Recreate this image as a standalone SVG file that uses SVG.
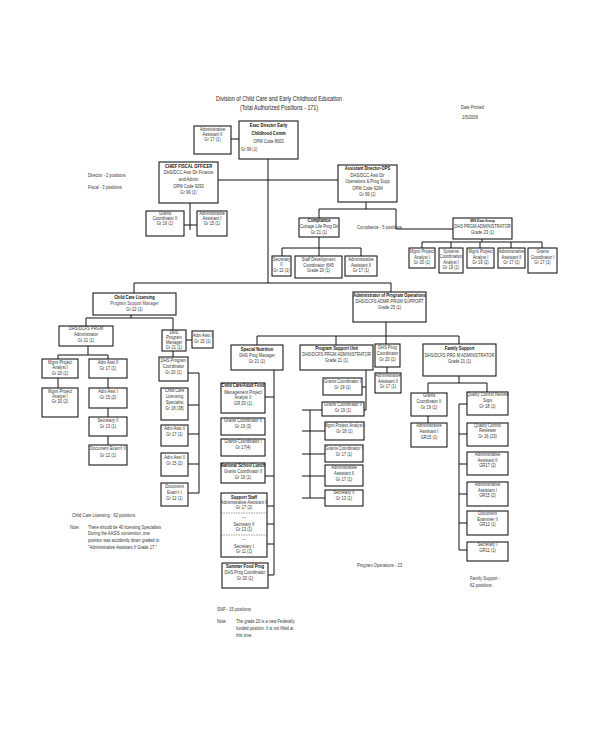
<svg xmlns="http://www.w3.org/2000/svg" width="600" height="730" viewBox="0 0 600 730">
<style>
.bg{fill:#fff}
.bx{fill:#fff;stroke:#1a1a1a;stroke-width:1.1}
.t{font-family:"Liberation Sans",Arial,sans-serif;font-size:5px;fill:#333;text-anchor:middle;transform-box:fill-box;transform-origin:center;transform:scaleX(0.82)}
.bd{font-weight:bold;fill:#111}
.s{text-anchor:start;transform-origin:left center}
.ti{font-size:6.5px;fill:#222}
.c{fill:none;stroke:#111;stroke-width:1}
.d{fill:none;stroke:#333;stroke-width:0.5;stroke-dasharray:1.5,1}
</style>
<rect class="bg" x="0" y="0" width="600" height="730"/>
<g id="labels">
<text class="t ti" x="279" y="101">Division of Child Care and Early Childhood Education</text>
<text class="t ti" x="279" y="110">(Total Authorized Positions - 171)</text>
<text class="t s" x="461" y="109">Date Printed</text>
<text class="t s" x="462" y="119">1/5/2006</text>
<text class="t s" x="88" y="177">Director - 2 positions</text>
<text class="t s" x="88" y="189">Fiscal - 3 positions</text>
<text class="t s" x="357" y="229">Compliance - 5 positions</text>
<text class="t s" x="72" y="517">Child Care Licensing  - 62 positions</text>
<text class="t s" x="70" y="529">Note:</text>
<text class="t s" x="88" y="529">There should be 40 licensing Specialists</text>
<text class="t s" x="88" y="535">During the AASIS conversion, one</text>
<text class="t s" x="88" y="542">position was accidently down graded to</text>
<text class="t s" x="88" y="549">"Administrative Assistant II Grade 17."</text>
<text class="t s" x="357" y="567">Program Operations - 23</text>
<text class="t s" x="470" y="580">Family Support -</text>
<text class="t s" x="470" y="587">62 positions</text>
<text class="t s" x="217" y="611">SNP - 15 positions</text>
<text class="t s" x="217" y="623">Note:</text>
<text class="t s" x="236" y="623">The grade 20 is a new Federally</text>
<text class="t s" x="236" y="630">funded position.  It is not filled at</text>
<text class="t s" x="236" y="637">this time.</text>
</g>
<g id="connectors">
<path class="c" d="M231,139H239 M268,159V283 M134,283H391 M134,283V293 M391,283V292 M218,180H338"/>
<path class="c" d="M190,203V230 M184,225H197"/>
<path class="c" d="M366,202V209 M319,209H396 M319,209V218 M396,209V229H453"/>
<path class="c" d="M319,237V256 M282,248H361 M282,248V256 M361,248V256"/>
<path class="c" d="M482,239V242 M422,242H542 M422,242V248 M451,242V248 M480,242V248 M511,242V248 M542,242V248"/>
<path class="c" d="M131,315V318 M86,318H173 M86,318V326 M173,318V330 M186,340H192"/>
<path class="c" d="M88,346V355 M58,355H108 M58,355V388 M108,355V445"/>
<path class="c" d="M173,351V357 M188,373H199V493 M188,405H199 M188,434H199 M188,464H199 M188,493H199"/>
<path class="c" d="M386,322V344 M257,336H459 M257,336V345 M336,336V345 M459,336V344 M387,367V373"/>
<path class="c" d="M366,370V410 M362,387H366 M364,410H366 M310,410V498 M302,410H322 M302,431H325 M302,454H325 M302,476H325 M302,498H325"/>
<path class="c" d="M274,370V575 M265,397H274 M265,476H274 M267,506H274 M267,524H274 M267,544H274 M268,575H274"/>
<path class="c" d="M459,376V383 M428,383H487 M428,383V423 M487,383V392 M459,404V550 M459,404H467 M459,434H467 M459,464H467 M459,494H467 M459,523H467 M459,550H467"/>
</g>
<g id="n_admin_asst_exec"><rect class="bx" x="194" y="126" width="37" height="28"/>
<text class="t" x="212.5" y="131">Administrative</text><text class="t" x="212.5" y="136">Assistant II</text><text class="t" x="212.5" y="141">Gr 17 (1)</text></g>
<g id="n_exec_director"><rect class="bx" x="239" y="121" width="59" height="38"/>
<text class="t bd" x="268.5" y="127">Exec Director Early</text><text class="t bd" x="268.5" y="135">Childhood Comm</text><text class="t" x="268.5" y="143">OPM Code 8002</text><text class="t s" x="241" y="151">Gr 99   (1)</text></g>
<g id="n_cfo"><rect class="bx" x="159" y="162" width="59" height="41"/>
<text class="t bd" x="188.5" y="168">CHIEF FISCAL OFFICER</text><text class="t" x="188.5" y="174">DHS/DCC Asst Dir Finance</text><text class="t" x="188.5" y="181">and Admin</text><text class="t" x="188.5" y="188">OPM Code 9293</text><text class="t" x="188.5" y="194">Gr 99 (1)</text></g>
<g id="n_fiscal_grants"><rect class="bx" x="146" y="211" width="38" height="25"/>
<text class="t" x="165" y="215">Grants</text><text class="t" x="165" y="220">Coordinator II</text><text class="t" x="165" y="225">Gr 19 (1)</text></g>
<g id="n_fiscal_admin"><rect class="bx" x="197" y="211" width="30" height="25"/>
<text class="t" x="212" y="215">Administrative</text><text class="t" x="212" y="220">Assistant I</text><text class="t" x="212" y="225">Gr 15 (1)</text></g>
<g id="n_asst_director"><rect class="bx" x="338" y="165" width="59" height="37"/>
<text class="t bd" x="367.5" y="170">Assistant Director-OPS</text><text class="t" x="367.5" y="177">DHS/DCC Asst Dir</text><text class="t" x="367.5" y="183">Operations &amp; Prog Supp</text><text class="t" x="367.5" y="190">OPM Code 9294</text><text class="t" x="367.5" y="196">Gr 99 (1)</text></g>
<g id="n_compliance"><rect class="bx" x="299" y="218" width="40" height="19"/>
<text class="t bd" x="319" y="222">Compliance</text><text class="t" x="319" y="228">Cottage Life Prog Dir</text><text class="t" x="319" y="234">Gr 21  (1)</text></g>
<g id="n_mis"><rect class="bx" x="453" y="218" width="59" height="21"/>
<text class="t bd" x="482.5" y="222" style="font-size:4px">MIS Data Group</text><text class="t" x="482.5" y="228">DHS PRGM ADMINISTRATOR</text><text class="t" x="482.5" y="234">Grade 23  (1)</text></g>
<g id="n_comp_sec"><rect class="bx" x="272" y="256" width="19" height="20"/>
<text class="t" x="281.5" y="261">Secretary</text><text class="t" x="281.5" y="266">II</text><text class="t" x="281.5" y="272">Gr 12 (1)</text></g>
<g id="n_comp_staffdev"><rect class="bx" x="295" y="256" width="47" height="22"/>
<text class="t" x="318.5" y="261">Staff Development</text><text class="t" x="318.5" y="267">Coordinator (645</text><text class="t" x="318.5" y="272">Grade 20 (1)</text></g>
<g id="n_comp_admin"><rect class="bx" x="345" y="256" width="32" height="20"/>
<text class="t" x="361" y="261">Administrative</text><text class="t" x="361" y="267">Assistant II</text><text class="t" x="361" y="272">Gr 17 (1)</text></g>
<g id="n_mis_1"><rect class="bx" x="409" y="248" width="26" height="20"/>
<text class="t" x="422" y="253">Mgmt Project</text><text class="t" x="422" y="259">Analyst I</text><text class="t" x="422" y="264">Gr 20 (1)</text></g>
<g id="n_mis_2"><rect class="bx" x="439" y="248" width="24" height="25"/>
<text class="t" x="451" y="253">Systems</text><text class="t" x="451" y="258">Coordination</text><text class="t" x="451" y="264">Analyst I</text><text class="t" x="451" y="269">Gr 19 (1)</text></g>
<g id="n_mis_3"><rect class="bx" x="467" y="248" width="27" height="20"/>
<text class="t" x="480.5" y="253">Mgmt Project</text><text class="t" x="480.5" y="259">Analyst I</text><text class="t" x="480.5" y="264">Gr 19 (2)</text></g>
<g id="n_mis_4"><rect class="bx" x="498" y="248" width="27" height="20"/>
<text class="t" x="511.5" y="253">Administrative</text><text class="t" x="511.5" y="259">Assistant II</text><text class="t" x="511.5" y="264">Gr 17 (1)</text></g>
<g id="n_mis_5"><rect class="bx" x="528" y="248" width="29" height="25"/>
<text class="t" x="542.5" y="253">Grants</text><text class="t" x="542.5" y="259">Coordinator I</text><text class="t" x="542.5" y="264">Gr 17 (1)</text></g>
<g id="n_ccl"><rect class="bx" x="93" y="293" width="83" height="22"/>
<text class="t bd" x="134.5" y="299">Child Care Licensing</text><text class="t" x="134.5" y="305" style="fill:#5a3a6a">Program Support Manager</text><text class="t" x="134.5" y="311">Gr 22 (1)</text></g>
<g id="n_ccl_admin"><rect class="bx" x="59" y="326" width="54" height="20"/>
<text class="t" x="86" y="330">DHS/DCFS PRGM</text><text class="t" x="86" y="336">Administrator</text><text class="t" x="86" y="342">Gr 21 (1)</text></g>
<g id="n_ccl_pm"><rect class="bx" x="162" y="330" width="24" height="21"/>
<text class="t" x="174" y="334">DHS</text><text class="t" x="174" y="339">Program</text><text class="t" x="174" y="344">Manager</text><text class="t" x="174" y="349">Gr 21 (1)</text></g>
<g id="n_ccl_pm_asst"><rect class="bx" x="192" y="331" width="21" height="17"/>
<text class="t" x="202.5" y="337">Adm Asst I</text><text class="t" x="202.5" y="343">Gr 15 (1)</text></g>
<g id="n_ccl_mpa1"><rect class="bx" x="42" y="359" width="36" height="19"/>
<text class="t" x="60" y="364">Mgmt Project</text><text class="t" x="60" y="369">Analyst I</text><text class="t" x="60" y="375">Gr 20 (1)</text></g>
<g id="n_ccl_mpa2"><rect class="bx" x="42" y="388" width="36" height="29"/>
<text class="t" x="60" y="393">Mgmt Project</text><text class="t" x="60" y="398">Analyst I</text><text class="t" x="60" y="403">Gr 20 (2)</text></g>
<g id="n_ccl_aa2"><rect class="bx" x="89" y="359" width="38" height="19"/>
<text class="t" x="108" y="364">Adm Asst II</text><text class="t" x="108" y="370">Gr 17 (1)</text></g>
<g id="n_ccl_aa1"><rect class="bx" x="89" y="388" width="38" height="20"/>
<text class="t" x="108" y="393">Adm Asst I</text><text class="t" x="108" y="399">Gr 15 (2)</text></g>
<g id="n_ccl_sec"><rect class="bx" x="89" y="417" width="38" height="19"/>
<text class="t" x="108" y="422">Secretary II</text><text class="t" x="108" y="428">Gr 13 (1)</text></g>
<g id="n_ccl_doc"><rect class="bx" x="89" y="445" width="38" height="20"/>
<text class="t" x="108" y="450">Document Exam'r II</text><text class="t" x="108" y="457">Gr 12 (1)</text></g>
<g id="n_ccl_coord"><rect class="bx" x="159" y="357" width="29" height="24"/>
<text class="t" x="173.5" y="362">DHS Program</text><text class="t" x="173.5" y="368">Coordinator</text><text class="t" x="173.5" y="374">Gr 20 (1)</text></g>
<g id="n_ccl_spec"><rect class="bx" x="161" y="388" width="27" height="32"/>
<text class="t" x="174.5" y="392">Child Care</text><text class="t" x="174.5" y="398">Licensing</text><text class="t" x="174.5" y="404">Specialist</text><text class="t" x="174.5" y="410">Gr 18 (38)</text></g>
<g id="n_ccl_aa2b"><rect class="bx" x="161" y="425" width="27" height="21"/>
<text class="t" x="174.5" y="430">Adm Asst II</text><text class="t" x="174.5" y="436">Gr 17 (1)</text></g>
<g id="n_ccl_aa2c"><rect class="bx" x="161" y="453" width="27" height="23"/>
<text class="t" x="174.5" y="459">Adm Asst II</text><text class="t" x="174.5" y="465">Gr 15 (2)</text></g>
<g id="n_ccl_doc1"><rect class="bx" x="161" y="483" width="27" height="23"/>
<text class="t" x="174.5" y="488">Document</text><text class="t" x="174.5" y="494">Exam'r I</text><text class="t" x="174.5" y="500">Gr 12 (1)</text></g>
<g id="n_progops"><rect class="bx" x="353" y="292" width="73" height="30"/>
<text class="t bd" x="389.5" y="297">Administrator of Program Operations</text><text class="t" x="389.5" y="303">DHS/DCFS ADMR PRGM SUPPORT</text><text class="t" x="389.5" y="309">Grade 25 (1)</text></g>
<g id="n_snp"><rect class="bx" x="231" y="345" width="52" height="25"/>
<text class="t bd" x="257" y="351">Special Nutrition</text><text class="t" x="257" y="357">DHS Prog Manager</text><text class="t" x="257" y="363">Gr 21  (1)</text></g>
<g id="n_psu"><rect class="bx" x="300" y="345" width="73" height="25"/>
<text class="t bd" x="336.5" y="350">Program Support Unit</text><text class="t" x="336.5" y="356">DHS/DCFS PRGM ADMINISTRATOR</text><text class="t" x="336.5" y="362">Grade 21  (1)</text></g>
<g id="n_po_coord"><rect class="bx" x="375" y="344" width="25" height="23"/>
<text class="t" x="387.5" y="349">DHS Prog</text><text class="t" x="387.5" y="355">Coordinator</text><text class="t" x="387.5" y="361">Gr 20 (1)</text></g>
<g id="n_po_admin"><rect class="bx" x="375" y="373" width="26" height="20"/>
<text class="t" x="388" y="377">Administrative</text><text class="t" x="388" y="383">Assistant II</text><text class="t" x="388" y="388">Gr 17 (1)</text></g>
<g id="n_family"><rect class="bx" x="423" y="344" width="73" height="32"/>
<text class="t bd" x="459.5" y="350">Family Support</text><text class="t" x="459.5" y="357">DHS/DCFS PRG M ADMINISTRATOR</text><text class="t" x="459.5" y="363">Grade 21  (1)</text></g>
<g id="n_psu_1"><rect class="bx" x="323" y="378" width="39" height="17"/>
<text class="t" x="342.5" y="383">Grants Coordinator I</text><text class="t" x="342.5" y="389">Gr 19 (1)</text></g>
<g id="n_psu_2"><rect class="bx" x="322" y="402" width="42" height="14"/>
<text class="t" x="343" y="406">Grants Coordinator II</text><text class="t" x="343" y="412">Gr 19 (1)</text></g>
<g id="n_psu_3"><rect class="bx" x="325" y="422" width="39" height="18"/>
<text class="t" x="344.5" y="427">Mgmt Project Analyst I</text><text class="t" x="344.5" y="433">Gr 18 (1)</text></g>
<g id="n_psu_4"><rect class="bx" x="325" y="445" width="38" height="17"/>
<text class="t" x="344" y="450">Grants Coordinator I</text><text class="t" x="344" y="456">Gr 17 (1)</text></g>
<g id="n_psu_5"><rect class="bx" x="325" y="465" width="38" height="21"/>
<text class="t" x="344" y="469">Administrative</text><text class="t" x="344" y="475">Assistant II</text><text class="t" x="344" y="481">Gr 17 (1)</text></g>
<g id="n_psu_6"><rect class="bx" x="325" y="490" width="38" height="16"/>
<text class="t" x="344" y="494">Secretary II</text><text class="t" x="344" y="500">Gr 13 (1)</text></g>
<g id="n_snp_ccaf"><rect class="bx" x="221" y="383" width="44" height="30"/>
<text class="t bd" x="243" y="387">Child Care/Adult Food</text><text class="t" x="243" y="394">Management Project</text><text class="t" x="243" y="399">Analyst II</text><text class="t" x="243" y="405">GR 20  (1)</text></g>
<g id="n_snp_gc2"><rect class="bx" x="221" y="418" width="44" height="17"/>
<text class="t" x="243" y="422">Grants Coordinator II</text><text class="t" x="243" y="428">Gr 19 (3)</text></g>
<g id="n_snp_gc1"><rect class="bx" x="221" y="439" width="44" height="17"/>
<text class="t" x="243" y="443">Grants Coordinator I</text><text class="t" x="243" y="449">Gr 17(4)</text></g>
<g id="n_snp_nsl"><rect class="bx" x="221" y="463" width="44" height="20"/>
<text class="t bd" x="243" y="467">National School Lunch</text><text class="t" x="243" y="473">Grants Coordinator II</text><text class="t" x="243" y="479">Gr 19  (1)</text></g>
<g id="n_snp_support"><rect class="bx" x="221" y="493" width="46" height="64"/>
<text class="t bd" x="244" y="499">Support Staff</text><text class="t" x="244" y="504">Administrative Assistant II</text><text class="t" x="244" y="509">Gr 17 (2)</text>
<path class="d" d="M221,513H267 M221,535H267"/>
<text class="t" x="244" y="519">---</text><text class="t" x="244" y="526">Secretary II</text><text class="t" x="244" y="531">Gr 13  (1)</text>
<text class="t" x="244" y="541">---</text><text class="t" x="244" y="548">Secretary I</text><text class="t" x="244" y="553">Gr 11  (1)</text></g>
<g id="n_snp_summer"><rect class="bx" x="222" y="563" width="46" height="25"/>
<text class="t bd" x="245" y="568">Summer Food Prog</text><text class="t" x="245" y="574">DHS Prog Coordinator</text><text class="t" x="245" y="580">Gr 20  (1)</text></g>
<g id="n_fs_gc2"><rect class="bx" x="411" y="393" width="36" height="23"/>
<text class="t" x="429" y="397">Grants</text><text class="t" x="429" y="403">Coordinator II</text><text class="t" x="429" y="409">Gr 19 (1)</text></g>
<g id="n_fs_aa1"><rect class="bx" x="411" y="423" width="36" height="24"/>
<text class="t" x="429" y="427">Administrative</text><text class="t" x="429" y="433">Assistant I</text><text class="t" x="429" y="439">GR15 (1)</text></g>
<g id="n_fs_qcs"><rect class="bx" x="467" y="392" width="41" height="23"/>
<text class="t" x="487.5" y="396">Quality Control Review</text><text class="t" x="487.5" y="402">Supv</text><text class="t" x="487.5" y="408">Gr 18  (1)</text></g>
<g id="n_fs_qcr"><rect class="bx" x="467" y="423" width="41" height="23"/>
<text class="t" x="487.5" y="427">Quality Control</text><text class="t" x="487.5" y="432">Reviewer</text><text class="t" x="487.5" y="438">Gr 16  (23)</text></g>
<g id="n_fs_aa2"><rect class="bx" x="467" y="452" width="41" height="23"/>
<text class="t" x="487.5" y="456">Administrative</text><text class="t" x="487.5" y="462">Assistant II</text><text class="t" x="487.5" y="467">GR17 (2)</text></g>
<g id="n_fs_aa1b"><rect class="bx" x="467" y="482" width="41" height="24"/>
<text class="t" x="487.5" y="486">Administrative</text><text class="t" x="487.5" y="492">Assistant I</text><text class="t" x="487.5" y="497">GR15 (2)</text></g>
<g id="n_fs_doc"><rect class="bx" x="467" y="511" width="41" height="24"/>
<text class="t" x="487.5" y="515">Document</text><text class="t" x="487.5" y="521">Examiner II</text><text class="t" x="487.5" y="526">GR12  (1)</text></g>
<g id="n_fs_sec"><rect class="bx" x="467" y="542" width="41" height="19"/>
<text class="t" x="487.5" y="546">Secretary I</text><text class="t" x="487.5" y="552">GR11  (1)</text></g>
</svg>
